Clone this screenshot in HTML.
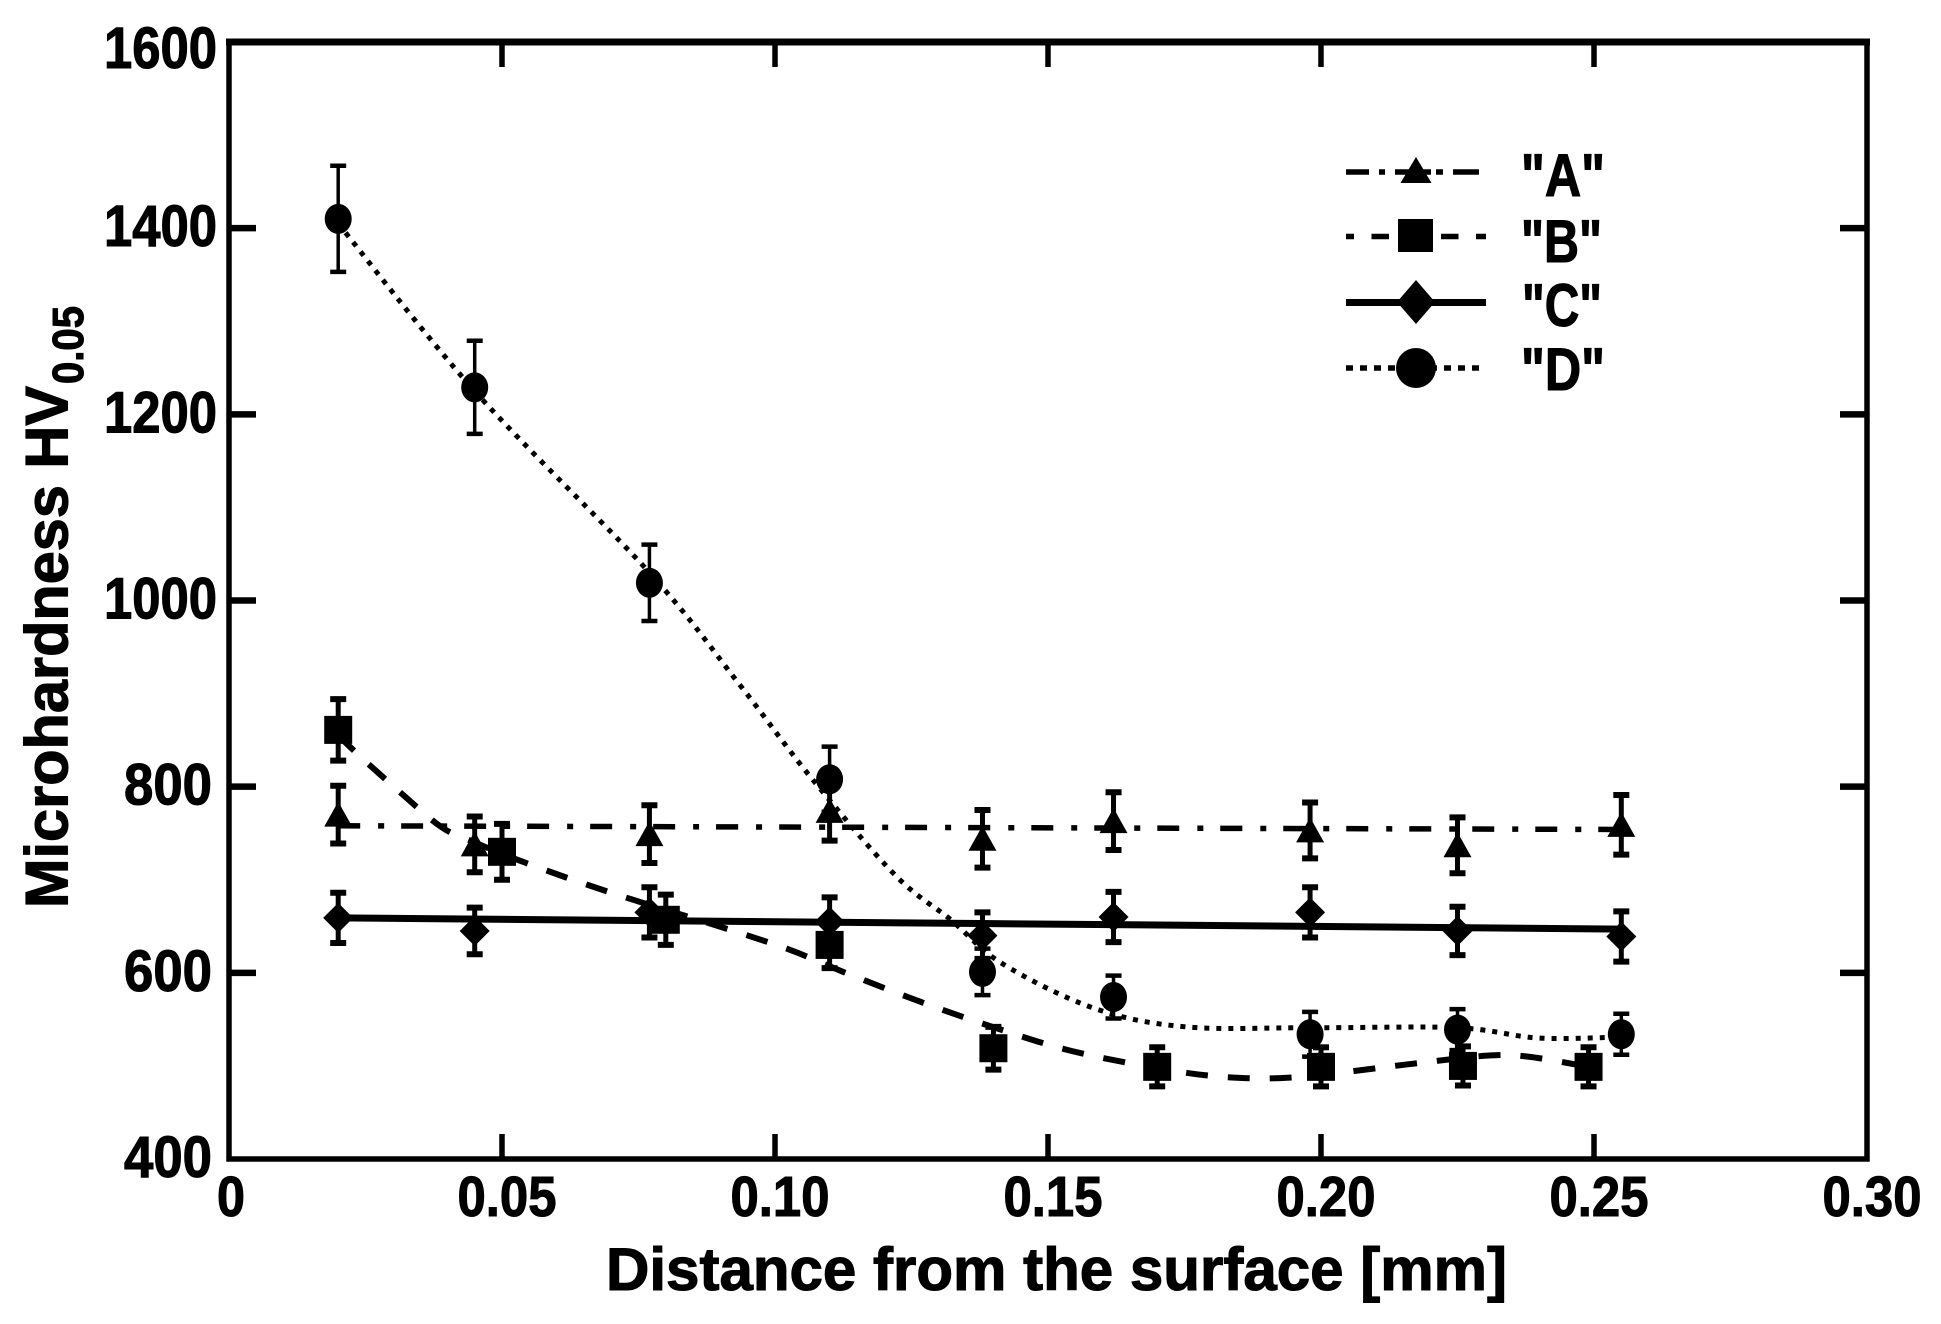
<!DOCTYPE html>
<html lang="en">
<head>
<meta charset="utf-8">
<title>Microhardness vs distance from the surface</title>
<style>
html,body{margin:0;padding:0;background:#fff;width:1941px;height:1324px;overflow:hidden}
svg{display:block}
text{font-family:"Liberation Sans",sans-serif;font-weight:bold;fill:#000;stroke:#000;stroke-width:1.1px}
</style>
</head>
<body>
<svg id="chart" xmlns="http://www.w3.org/2000/svg" width="1941" height="1324" viewBox="0 0 1941 1324">
  <rect x="0" y="0" width="1941" height="1324" fill="#fff"/>
  <g id="lines"></g>
  <g id="errors"></g>
  <g id="markers"></g>
  <g id="axes"></g>

  <text transform="translate(67.5,908) rotate(-90)" font-size="60" textLength="522" lengthAdjust="spacingAndGlyphs">Microhardness HV</text>
  <text transform="translate(83,384) rotate(-90)" font-size="44" textLength="78" lengthAdjust="spacingAndGlyphs">0.05</text>
  <text x="606" y="1290" font-size="60" textLength="901" lengthAdjust="spacingAndGlyphs">Distance from the surface [mm]</text>

  <g>
    <g>
      <line x1="1346" y1="172" x2="1486" y2="172" stroke="#000" stroke-width="5.5" stroke-dasharray="23 10 6 10 36 5 7 10 26 10 2"/>
      <polygon points="1416,157 1431.5,183 1400.5,183" fill="#000"/>
      <text x="1521" y="196" font-size="60" textLength="84" lengthAdjust="spacingAndGlyphs">"A"</text>
    </g>
    <g>
      <line x1="1346" y1="236.5" x2="1486" y2="236.5" stroke="#000" stroke-width="5.5" stroke-dasharray="8 17.5 17.5 52 17.5 17.5 10"/>
      <rect x="1398" y="219" width="35" height="33" fill="#000"/>
      <text x="1521" y="262" font-size="60" textLength="81" lengthAdjust="spacingAndGlyphs">"B"</text>
    </g>
    <g>
      <line x1="1346" y1="302.5" x2="1486" y2="302.5" stroke="#000" stroke-width="7"/>
      <polygon points="1416,280 1435,302 1416,324 1397,302" fill="#000"/>
      <text x="1522" y="326" font-size="60" textLength="80" lengthAdjust="spacingAndGlyphs">"C"</text>
    </g>
    <g>
      <line x1="1346" y1="368" x2="1486" y2="368" stroke="#000" stroke-width="5.5" stroke-dasharray="7 7"/>
      <ellipse cx="1416" cy="368" rx="20" ry="20" fill="#000"/>
      <text x="1521" y="390" font-size="60" textLength="84" lengthAdjust="spacingAndGlyphs">"D"</text>
    </g>
  </g>
</svg>
<script>
// ---- chart data ----
var xTickValues = [0, 0.05, 0.10, 0.15, 0.20, 0.25, 0.30];
var xTickLabels = ["0", "0.05", "0.10", "0.15", "0.20", "0.25", "0.30"];
var yTickValues = [400, 600, 800, 1000, 1200, 1400, 1600];
var yTickLabels = ["400", "600", "800", "1000", "1200", "1400", "1600"];

var distanceA = [0.02, 0.045, 0.077, 0.11, 0.138, 0.162, 0.198, 0.225, 0.255];
var hardnessA = [770, 738, 749, 774, 744, 763, 753, 737, 759];
var errorA    = [31, 30, 31, 32, 31, 31, 30, 30, 32];

var distanceB = [0.02, 0.05, 0.08, 0.11, 0.14, 0.17, 0.20, 0.226, 0.249];
var hardnessB = [861, 730, 657, 630, 519, 499, 499, 500, 499];
var errorB    = [33, 30, 27, 25, 23, 21, 21, 21, 21];

var distanceC = [0.02, 0.045, 0.077, 0.11, 0.138, 0.162, 0.198, 0.225, 0.255];
var hardnessC = [659, 645, 665, 655, 640, 660, 665, 645, 639];
var errorC    = [27, 25, 27, 26, 25, 27, 27, 26, 27];

var distanceD = [0.02, 0.045, 0.077, 0.11, 0.138, 0.162, 0.198, 0.225, 0.255];
var hardnessD = [1410, 1229, 1019, 808, 601, 574, 534, 539, 534];
var errorD    = [57, 50, 41, 35, 25, 23, 24, 22, 22];

var trendAx = [0.02, 0.255];
var trendAy = [758, 754];
var trendCx = [0.02, 0.255];
var trendCy = [659, 647];
var trendBx = [0.02, 0.0243, 0.0323, 0.0388, 0.0438, 0.0544, 0.07, 0.0892, 0.1026, 0.1125, 0.1266, 0.1398, 0.1537, 0.1696, 0.1826, 0.1958, 0.2163, 0.2304, 0.2379, 0.249];
var trendBy = [855, 831, 789, 757, 743, 718, 686, 651, 625, 601, 569, 542, 517, 498, 488, 488, 502, 511, 510, 499];
var trendDx = [0.02, 0.045, 0.077, 0.0936, 0.1067, 0.122, 0.1322, 0.1416, 0.1584, 0.1752, 0.198, 0.225, 0.2397, 0.255];
var trendDy = [1405, 1225, 1030, 909, 809, 705, 657, 610, 562, 542, 541, 541, 530, 531];

// ---- axis functions ----
var plotLeft = 229, plotRight = 1867, plotTop = 42, plotBottom = 1159;
function xScale(v) { return plotLeft + (v - 0) / 0.30 * (plotRight - plotLeft); }
function yScale(v) { return plotBottom - (v - 400) / 1200 * (plotBottom - plotTop); }

var NS = "http://www.w3.org/2000/svg";
function make(tag, parent, attrs) {
  var el = document.createElementNS(NS, tag);
  for (var k in attrs) { el.setAttribute(k, attrs[k]); }
  parent.appendChild(el);
  return el;
}
var axesG = document.getElementById("axes");
var linesG = document.getElementById("lines");
var errorsG = document.getElementById("errors");
var markersG = document.getElementById("markers");

// ---- frame ----
var frame = make("rect", axesG, {x: plotLeft, y: plotTop, width: plotRight - plotLeft, height: plotBottom - plotTop, fill: "none", stroke: "#000", "stroke-width": 5.5});


var frameTop = make("line", axesG, {x1: plotLeft - 3, x2: plotRight + 3, y1: plotTop, y2: plotTop, stroke: "#000", "stroke-width": 7});



// ---- ticks and labels ----
xTickValues.forEach(function (v, i) {
  var px = xScale(v);
  if (i > 0 && i < xTickValues.length - 1) {
    var tb = make("line", axesG, {x1: px, x2: px, y1: plotBottom, y2: plotBottom - 25, stroke: "#000", "stroke-width": 5.5});
    
    
    var tt = make("line", axesG, {x1: px, x2: px, y1: plotTop, y2: plotTop + 25, stroke: "#000", "stroke-width": 5.5});
    
    
  }
  var single = xTickLabels[i].length === 1;
  var w = single ? 28 : 99;
  var lab = make("text", axesG, {x: (single ? px - 12 : px + 5 - w / 2), y: 1216, "font-size": 57, textLength: w, lengthAdjust: "spacingAndGlyphs"});
  lab.textContent = xTickLabels[i];
  
  
});
yTickValues.forEach(function (v, i) {
  var py = yScale(v);
  if (i > 0 && i < yTickValues.length - 1) {
    var tl = make("line", axesG, {x1: plotLeft, x2: plotLeft + 27, y1: py, y2: py, stroke: "#000", "stroke-width": 6.5});
    
    
    var tr = make("line", axesG, {x1: plotRight, x2: plotRight - 27, y1: py, y2: py, stroke: "#000", "stroke-width": 6.5});
    
    
  }
  var four = yTickLabels[i].length === 4;
  var w = four ? 113 : 88;
  var right = four ? 217 : 212;
  var lab = make("text", axesG, {x: right - w, y: Math.max(py + 18, 68), "font-size": 58, textLength: w, lengthAdjust: "spacingAndGlyphs"});
  lab.textContent = yTickLabels[i];
  
  
});

// ---- trend paths ----
function smoothPath(xs, ys) {
  var p = xs.map(function (x, i) { return [xScale(x), yScale(ys[i])]; });
  var d = "M" + p[0][0] + " " + p[0][1];
  for (var i = 0; i < p.length - 1; i++) {
    var p0 = p[Math.max(i - 1, 0)], p1 = p[i], p2 = p[i + 1], p3 = p[Math.min(i + 2, p.length - 1)];
    d += " C" + (p1[0] + (p2[0] - p0[0]) / 6) + " " + (p1[1] + (p2[1] - p0[1]) / 6) + " " +
         (p2[0] - (p3[0] - p1[0]) / 6) + " " + (p2[1] - (p3[1] - p1[1]) / 6) + " " + p2[0] + " " + p2[1];
  }
  return d;
}
var lineA = make("path", linesG, {d: smoothPath(trendAx, trendAy), fill: "none", stroke: "#000", "stroke-width": 5.5, "stroke-dasharray": "22 18 6 17"});


var lineB = make("path", linesG, {d: smoothPath(trendBx, trendBy), fill: "none", stroke: "#000", "stroke-width": 6, "stroke-dasharray": "22 20"});


var lineC = make("path", linesG, {d: smoothPath(trendCx, trendCy), fill: "none", stroke: "#000", "stroke-width": 7});


var lineD = make("path", linesG, {d: smoothPath(trendDx, trendDy), fill: "none", stroke: "#000", "stroke-width": 5, "stroke-dasharray": "5 7"});



// ---- error bars ----
function drawErrors(xs, ys, es, stem) {
  xs.forEach(function (x, i) {
    var px = xScale(x), top = yScale(ys[i] + es[i]), bot = yScale(ys[i] - es[i]);
    var s = make("line", errorsG, {x1: px, x2: px, y1: top, y2: bot, stroke: "#000", "stroke-width": stem});
    
    
    var c1 = make("line", errorsG, {x1: px - 8, x2: px + 8, y1: top, y2: top, stroke: "#000", "stroke-width": stem + 1});
    
    
    var c2 = make("line", errorsG, {x1: px - 8, x2: px + 8, y1: bot, y2: bot, stroke: "#000", "stroke-width": stem + 1});
    
    
  });
}
drawErrors(distanceA, hardnessA, errorA, 5);
drawErrors(distanceB, hardnessB, errorB, 5);
drawErrors(distanceC, hardnessC, errorC, 5);
drawErrors(distanceD, hardnessD, errorD, 3.5);

// ---- markers ----
distanceA.forEach(function (x, i) {
  var px = xScale(x), py = yScale(hardnessA[i]);
  var m = make("polygon", markersG, {points: px + "," + (py - 13) + " " + (px + 14) + "," + (py + 12) + " " + (px - 14) + "," + (py + 12), fill: "#000"});
  
  
});
distanceB.forEach(function (x, i) {
  var px = xScale(x), py = yScale(hardnessB[i]);
  var m = make("rect", markersG, {x: px - 14, y: py - 14, width: 28, height: 28, fill: "#000"});
  
  
});
distanceC.forEach(function (x, i) {
  var px = xScale(x), py = yScale(hardnessC[i]);
  var m = make("polygon", markersG, {points: px + "," + (py - 15) + " " + (px + 15) + "," + py + " " + px + "," + (py + 15) + " " + (px - 15) + "," + py, fill: "#000"});
  
  
});
distanceD.forEach(function (x, i) {
  var px = xScale(x), py = yScale(hardnessD[i]);
  var m = make("ellipse", markersG, {cx: px, cy: py, rx: 13.5, ry: 15, fill: "#000"});
  
  
});
</script>
</body>
</html>
